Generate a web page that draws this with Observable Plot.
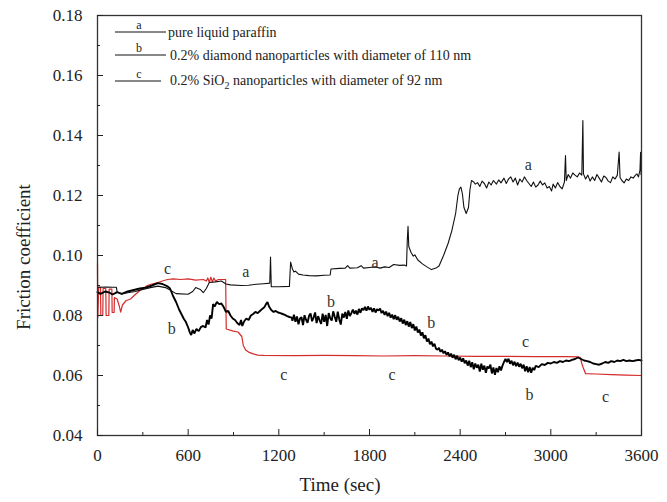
<!DOCTYPE html>
<html>
<head>
<meta charset="utf-8">
<script src="https://cdn.jsdelivr.net/npm/d3@7"></script>
<script src="https://cdn.jsdelivr.net/npm/@observablehq/plot@0.6"></script>
<style>
  html, body { margin: 0; padding: 0; background: #fff; }
  #wrap { position: relative; width: 667px; height: 502px; font-family: 'Liberation Serif', 'DejaVu Serif', serif; }
  #legend { position: absolute; left: 0; top: 0; width: 667px; height: 100px; pointer-events: none; }
</style>
</head>
<body>
<div id="wrap"></div>
<script>
// ---------- data ----------
const xTicks = [0, 600, 1200, 1800, 2400, 3000, 3600];
const xMinor = [300, 900, 1500, 2100, 2700, 3300];
const yTicks = [0.04, 0.06, 0.08, 0.10, 0.12, 0.14, 0.16, 0.18];
const yMinor = [0.05, 0.07, 0.09, 0.11, 0.13, 0.15, 0.17];

const seriesNames = ["a", "b", "c"];
const legendTexts = [
  "pure liquid paraffin",
  "0.2% diamond nanoparticles with diameter of 110 nm",
  "0.2% SiO\u2082 nanoparticles with diameter of 92 nm"
];

// a: pure liquid paraffin
const timeA = [0,60,100,125,130,160,200,250,300,350,400,450,480,520,600,630,650,680,700,720,740,780,820,850,880,950,1000,1050,1100,1140,1145,1150,1200,1270,1278,1290,1300,1310,1330,1360,1400,1450,1500,1540,1545,1600,1640,1655,1670,1720,1745,1760,1800,1840,1870,1900,1930,1960,2000,2030,2045,2050,2055,2060,2075,2090,2100,2120,2150,2180,2210,2240,2260,2290,2320,2345,2370,2385,2395,2405,2415,2425,2440,2455,2465,2475,2490,2500,2515,2530,2545,2560,2575,2590,2605,2620,2640,2655,2670,2690,2705,2720,2735,2750,2765,2780,2795,2810,2825,2840,2855,2870,2885,2900,2915,2930,2945,2960,2975,2990,3005,3015,3030,3045,3060,3075,3090,3097,3102,3115,3130,3145,3160,3175,3190,3205,3212,3216,3230,3245,3260,3275,3290,3305,3320,3335,3350,3365,3380,3395,3410,3425,3440,3452,3458,3470,3485,3500,3515,3530,3545,3560,3570,3580,3590,3594,3597,3600];
const valA  = [0.0894,0.0895,0.0894,0.0894,0.0878,0.0872,0.0876,0.0880,0.0887,0.0893,0.0898,0.0893,0.0885,0.0873,0.0871,0.0880,0.0893,0.0887,0.0876,0.0890,0.0910,0.0912,0.0915,0.0905,0.0902,0.0900,0.0901,0.0904,0.0906,0.0908,0.0995,0.0896,0.0896,0.0897,0.0978,0.0955,0.0945,0.0948,0.0938,0.0935,0.0933,0.0932,0.0934,0.0935,0.0955,0.0957,0.0958,0.0966,0.0958,0.0959,0.0966,0.0958,0.0960,0.0962,0.0958,0.0962,0.0960,0.0970,0.0967,0.0968,0.0965,0.1050,0.1097,0.1030,0.1010,0.0998,0.1002,0.0985,0.0972,0.0962,0.0953,0.0958,0.0965,0.1000,0.1040,0.1083,0.1140,0.1200,0.1222,0.1228,0.1205,0.1160,0.1140,0.1160,0.1220,0.1250,0.1245,0.1238,0.1243,0.1230,0.1248,0.1240,0.1225,0.1245,0.1235,0.1250,0.1238,0.1252,0.1242,0.1258,0.1240,0.1255,0.1262,0.1245,0.1258,0.1235,0.1255,0.1245,0.1262,0.1250,0.1240,0.1230,0.1245,0.1228,0.1235,0.1248,0.1235,0.1242,0.1225,0.1230,0.1215,0.1238,0.1225,0.1243,0.1230,0.1222,0.1245,0.1333,0.1250,0.1270,0.1258,0.1275,0.1268,0.1262,0.1275,0.1268,0.1450,0.1272,0.1255,0.1268,0.1248,0.1262,0.1250,0.1270,0.1258,0.1245,0.1265,0.1260,0.1248,0.1243,0.1262,0.1255,0.1268,0.1345,0.1260,0.1250,0.1242,0.1255,0.1250,0.1262,0.1258,0.1268,0.1272,0.1262,0.1285,0.1344,0.1270,0.1278];

// b: 0.2% diamond nanoparticles  [time, value]
const seriesB = [
  [0,0.0878],[20,0.0872],[50,0.0880],[80,0.0876],[100,0.0870],[130,0.0878],[160,0.0872],[200,0.0880],[240,0.0885],[280,0.0890],
  [320,0.0893],[360,0.0900],[400,0.0908],[430,0.0905],[460,0.0898],[480,0.0890],[500,0.0865],[520,0.0845],[540,0.0820],[555,0.0805],
  [570,0.0790],[585,0.0778],[600,0.0760],[612,0.0742],[620,0.0735],[630,0.0752],[640,0.0740],[655,0.0755],[670,0.0748],[685,0.0762],
  [700,0.0765],[715,0.0760],[725,0.0785],[735,0.0770],[745,0.0800],[755,0.0790],[765,0.0838],[775,0.0830],[790,0.0845],[805,0.0838],
  [820,0.0840],[835,0.0828],[850,0.0812],[865,0.0815],[880,0.0800],[895,0.0790],[910,0.0785],[925,0.0775],[940,0.0768],[950,0.0785],
  [958,0.0765],[970,0.0780],[985,0.0790],[1000,0.0785],[1015,0.0800],[1030,0.0805],[1045,0.0812],[1060,0.0808],[1075,0.0815],[1090,0.0822],
  [1105,0.0828],[1115,0.0838],[1125,0.0845],[1135,0.0830],[1150,0.0818],[1165,0.0812],[1180,0.0815],[1195,0.0810],[1210,0.0808],[1225,0.0805],
  [1240,0.0802],[1255,0.0798],[1270,0.0795],[1285,0.0793],
  [1290,0.0782],[1300,0.0803],[1310,0.0779],[1320,0.0797],[1330,0.0771],[1340,0.0790],[1350,0.0794],[1360,0.0768],[1370,0.0801],[1380,0.0786],
  [1390,0.0776],[1400,0.0799],[1410,0.0807],[1420,0.0781],[1430,0.0793],[1440,0.0810],[1450,0.0775],[1460,0.0798],[1470,0.0784],[1480,0.0772],
  [1490,0.0806],[1500,0.0779],[1510,0.0802],[1520,0.0765],[1530,0.0808],[1540,0.0791],[1550,0.0783],[1560,0.0814],[1570,0.0796],[1580,0.0779],
  [1590,0.0813],[1600,0.0787],[1610,0.0770],[1620,0.0806],[1630,0.0793],[1640,0.0812],[1650,0.0789],[1660,0.0817],[1670,0.0798],[1680,0.0808],
  [1690,0.0820],[1700,0.0806],[1710,0.0816],[1720,0.0803],[1730,0.0822],[1740,0.0809],[1750,0.0824],[1760,0.0818],[1770,0.0829],[1780,0.0816],
  [1790,0.0830],[1800,0.0819],[1810,0.0826],[1820,0.0812],[1830,0.0824],[1840,0.0810],[1850,0.0821],[1860,0.0817],[1870,0.0823],[1880,0.0808],
  [1890,0.0816],[1900,0.0802],[1910,0.0813],[1920,0.0798],[1930,0.0809],[1940,0.0793],[1950,0.0803],[1960,0.0788],[1970,0.0801],[1980,0.0786],
  [1990,0.0796],[2000,0.0780],[2010,0.0791],[2020,0.0773],[2030,0.0786],[2040,0.0768],[2050,0.0781],[2060,0.0763],[2070,0.0778],[2080,0.0758],
  [2090,0.0771],[2100,0.0750],[2110,0.0763],[2120,0.0743],[2130,0.0753],[2140,0.0733],[2150,0.0744],[2160,0.0724],[2170,0.0734],[2180,0.0713],
  [2190,0.0723],[2200,0.0704],[2210,0.0713],[2220,0.0697],[2230,0.0706],[2240,0.0689],[2250,0.0686],[2260,0.0692],[2270,0.0679],[2280,0.0686],
  [2290,0.0674],[2300,0.0681],[2310,0.0669],[2320,0.0677],[2330,0.0664],[2340,0.0673],[2350,0.0659],[2360,0.0669],[2370,0.0654],[2380,0.0666],
  [2390,0.0651],[2400,0.0660],[2410,0.0646],[2420,0.0657],[2430,0.0641],[2440,0.0650],[2450,0.0633],[2460,0.0649],[2470,0.0628],[2480,0.0644],
  [2490,0.0621],[2500,0.0640],[2510,0.0626],[2520,0.0636],[2530,0.0613],[2540,0.0639],[2550,0.0619],[2560,0.0633],[2570,0.0609],[2580,0.0630],
  [2590,0.0624],[2600,0.0636],[2610,0.0607],[2620,0.0627],[2630,0.0602],[2640,0.0625],[2650,0.0611],[2660,0.0631],[2670,0.0617],[2680,0.0633],
  [2690,0.0645],[2700,0.0655],[2710,0.0645],[2720,0.0656],[2730,0.0639],[2740,0.0649],[2750,0.0634],[2760,0.0646],[2770,0.0631],[2780,0.0643],
  [2790,0.0629],[2800,0.0639],[2810,0.0624],[2820,0.0636],[2830,0.0614],[2840,0.0631],[2850,0.0611],[2860,0.0628],[2870,0.0609],[2880,0.0626],
  [2890,0.0618],[2900,0.0632],[2920,0.0628],[2940,0.0638],[2960,0.0635],[2980,0.0642],[3000,0.0640],[3020,0.0645],[3040,0.0642],[3060,0.0648],
  [3080,0.0645],[3100,0.0650],[3120,0.0648],[3140,0.0652],[3160,0.0655],[3180,0.0660],[3200,0.0655],[3220,0.0650],[3240,0.0648],[3260,0.0645],
  [3280,0.0640],[3300,0.0638],[3320,0.0636],[3340,0.0640],[3360,0.0645],[3380,0.0642],[3400,0.0648],[3420,0.0645],[3440,0.0650],[3460,0.0648],
  [3480,0.0652],[3500,0.0648],[3520,0.0650],[3540,0.0648],[3560,0.0650],[3580,0.0652],[3600,0.0650]
];

// c: 0.2% SiO2 nanoparticles
const timeC = [0,2,8,20,22,35,37,55,57,75,77,95,97,110,112,130,145,153,165,190,219,250,285,330,360,400,430,463,500,550,600,650,700,720,730,740,750,760,770,780,800,848,852,900,930,955,965,980,1000,1030,1060,1100,1300,1500,1700,1900,2100,2300,2500,2700,2900,3100,3180,3195,3205,3215,3230,3300,3400,3500,3600];
const valC  = [0.0973,0.0794,0.0894,0.0894,0.0800,0.0800,0.0890,0.0890,0.0800,0.0800,0.0888,0.0888,0.0810,0.0810,0.0860,0.0855,0.0830,0.0811,0.0835,0.0850,0.0855,0.0870,0.0885,0.0900,0.0905,0.0910,0.0915,0.0920,0.0922,0.0920,0.0922,0.0918,0.0920,0.0915,0.0925,0.0910,0.0928,0.0912,0.0925,0.0915,0.0920,0.0920,0.0755,0.0748,0.0745,0.0730,0.0700,0.0685,0.0678,0.0672,0.0668,0.0667,0.0666,0.0667,0.0666,0.0665,0.0666,0.0665,0.0664,0.0664,0.0663,0.0663,0.0662,0.0660,0.0640,0.0625,0.0606,0.0605,0.0603,0.0601,0.0600];

// curve labels
const labelText = ["c","a","b","b","a","b","c","c","c","a","b","c"];
const labelTime = [464, 981, 491, 1545, 1837, 2208, 1233, 1950, 2832, 2851, 2858, 3362];
const labelVal  = [0.0957,0.0947,0.0757,0.0847,0.0977,0.0777,0.0603,0.0603,0.0713,0.1303,0.0537,0.0530];

// ---------- build ----------
const dataA = timeA.map((t, i) => ({t, v: valA[i]}));
const dataB = seriesB.map(([t, v]) => ({t, v}));
const dataC = timeC.map((t, i) => ({t, v: valC[i]}));
const labels = labelText.map((s, i) => ({s, t: labelTime[i], v: labelVal[i]}));

const RED = "#d42b2b";
const FONT = "'Liberation Serif', 'DejaVu Serif', serif";
const blank = () => "";

const chart = Plot.plot({
  width: 667,
  height: 502,
  marginLeft: 97,
  marginRight: 26,
  marginTop: 15,
  marginBottom: 67,
  style: {fontFamily: FONT, fontSize: "17px", background: "#fff", color: "#222"},
  x: {domain: [0, 3600]},
  y: {domain: [0.04, 0.18]},
  marks: [
    Plot.line(dataC, {x: "t", y: "v", stroke: RED, strokeWidth: 1.2}),
    Plot.line(dataB, {x: "t", y: "v", stroke: "#000", strokeWidth: 1.9, strokeLinejoin: "miter"}),
    Plot.line(dataA, {x: "t", y: "v", stroke: "#111", strokeWidth: 1.1}),
    Plot.text(labels, {x: "t", y: "v", text: "s", fill: "#333", fontSize: 16, fontFamily: FONT}),
    Plot.frame({stroke: "#333", strokeWidth: 1.3}),
    Plot.axisX({ticks: xTicks, tickSize: -6, tickFormat: blank, label: null}),
    Plot.axisX({ticks: xMinor, tickSize: -3, tickFormat: blank, label: null}),
    Plot.axisX({ticks: xTicks, tickSize: 0, tickPadding: 13, tickFormat: d3.format("d"), label: null, fontSize: 17}),
    Plot.axisY({ticks: yTicks, tickSize: -6, tickFormat: blank, label: null}),
    Plot.axisY({ticks: yMinor, tickSize: -3, tickFormat: blank, label: null}),
    Plot.axisY({ticks: yTicks, tickSize: 0, tickPadding: 15, tickFormat: d3.format(".2f"), label: null, fontSize: 17})
  ]
});

const wrap = document.getElementById("wrap");
wrap.appendChild(chart);

// drop empty tick texts
d3.select(chart).selectAll("text").filter(function () { return this.textContent === ""; }).remove();

// axis titles
const svg = d3.select(chart);
svg.append("text")
  .attr("x", 340).attr("y", 491)
  .attr("text-anchor", "middle")
  .style("font-family", FONT).attr("font-size", 19).attr("fill", "#222")
  .text("Time (sec)");
svg.append("text")
  .attr("transform", "translate(30,257) rotate(-90)")
  .attr("text-anchor", "middle")
  .style("font-family", FONT).attr("font-size", 19).attr("fill", "#222")
  .text("Friction coefficient");

// legend
const lg = d3.select(wrap).append("svg")
  .attr("id", "legend").attr("width", 667).attr("height", 100);
const lineY = [32, 55, 81];
const textY = [37, 60, 85];
seriesNames.forEach((n, i) => {
  lg.append("line").attr("x1", 115).attr("x2", i === 2 ? 161 : 166)
    .attr("y1", lineY[i]).attr("y2", lineY[i]).attr("stroke", "#111").attr("stroke-width", 1);
  lg.append("text").attr("x", 139).attr("y", lineY[i] - 3).attr("text-anchor", "middle")
    .style("font-family", FONT).attr("font-size", 12).attr("fill", "#222").text(n);
});
lg.append("text").attr("x", 168).attr("y", textY[0]).style("font-family", FONT).attr("font-size", 14).attr("fill", "#222").text(legendTexts[0]);
lg.append("text").attr("x", 170).attr("y", textY[1]).style("font-family", FONT).attr("font-size", 14).attr("fill", "#222").text(legendTexts[1]);
const t3 = lg.append("text").attr("x", 170).attr("y", textY[2]).style("font-family", FONT).attr("font-size", 14).attr("fill", "#222");
t3.append("tspan").text("0.2% SiO");
t3.append("tspan").attr("dy", 4).attr("font-size", 10).text("2");
t3.append("tspan").attr("dy", -4).text(" nanoparticles with diameter of 92 nm");
</script>
</body>
</html>
